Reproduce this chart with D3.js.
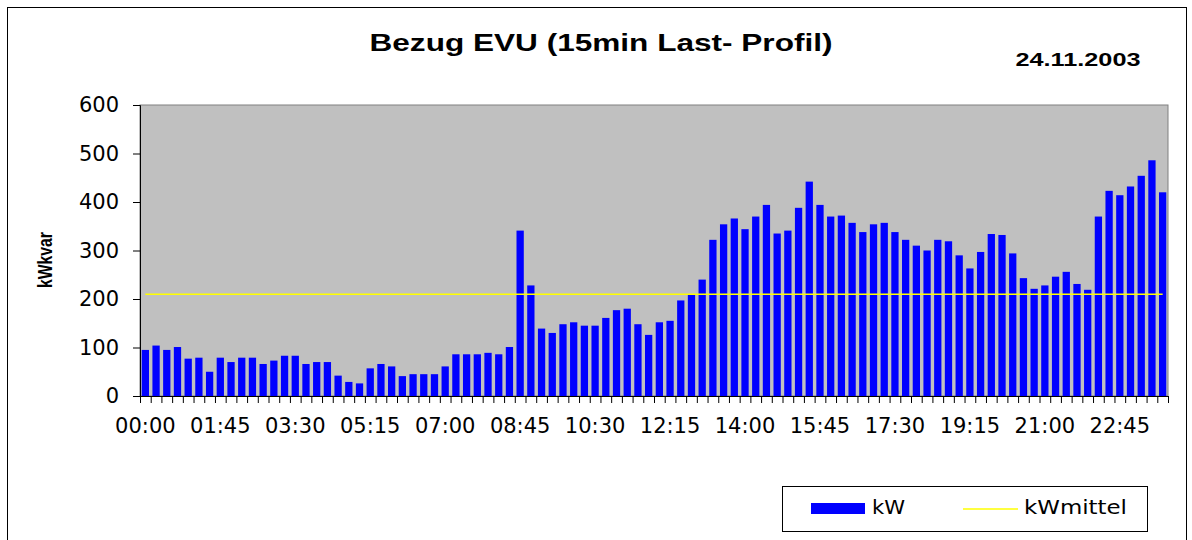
<!DOCTYPE html>
<html>
<head>
<meta charset="utf-8">
<script src="https://cdn.jsdelivr.net/npm/d3@7"></script>
<style>
  body { margin: 0; background: #fff; }
  svg { display: block; }
  text { font-family: "DejaVu Sans", sans-serif; fill: #000; }
</style>
</head>
<body>
<svg id="chart" width="1192" height="540"></svg>
<script>
// 15 min slots over the day
const slots = d3.range(96).map(i => {
  const h = Math.floor(i / 4), m = (i % 4) * 15;
  return String(h).padStart(2, "0") + ":" + String(m).padStart(2, "0");
});

const kW = [
  95, 104, 95, 101, 77, 79, 50, 79, 70, 79, 79, 66,
  73, 83, 83, 66, 70, 70, 42, 29, 26, 57, 66, 61,
  41, 45, 45, 45, 61, 86, 86, 86, 89, 86, 101, 341,
  228, 139, 130, 148, 152, 145, 145, 161, 177, 180, 148, 126,
  152, 155, 197, 209, 240, 322, 354, 366, 344, 370, 394, 335,
  341, 388, 442, 394, 370, 372, 357, 338, 354, 357, 338, 322,
  310, 300, 322, 319, 290, 263, 297, 334, 332, 294, 243, 221,
  228, 246, 256, 231, 219, 370, 423, 414, 432, 454, 486, 420
];

const kWmittel = 210;

const xLabels = ["00:00","01:45","03:30","05:15","07:00","08:45","10:30",
                 "12:15","14:00","15:45","17:30","19:15","21:00","22:45"];
const yTicks = [0, 100, 200, 300, 400, 500, 600];

const svg = d3.select("#chart");
const plot = { left: 140, top: 105, right: 1168, bottom: 396 };

// outer frame
svg.append("rect")
   .attr("x", 7.5).attr("y", 7.5).attr("width", 1179).attr("height", 560)
   .attr("fill", "none").attr("stroke", "#000");

const x = d3.scaleBand().domain(slots)
  .range([plot.left, plot.right])
  .paddingInner(0.32).paddingOuter(0.16);
const y = d3.scaleLinear().domain([0, 600]).range([plot.bottom, plot.top]);

// plot background
svg.append("rect")
   .attr("x", plot.left).attr("y", plot.top)
   .attr("width", plot.right - plot.left).attr("height", plot.bottom - plot.top)
   .attr("fill", "#c0c0c0").attr("stroke", "#808080");

// bars
svg.append("g").selectAll("rect").data(kW).join("rect")
   .attr("x", (d, i) => x(slots[i]))
   .attr("y", d => y(d))
   .attr("width", x.bandwidth())
   .attr("height", d => y(0) - y(d))
   .attr("fill", "#0000ff");

// mean line
svg.append("line")
   .attr("x1", x(slots[0]) + x.bandwidth() / 2)
   .attr("x2", x(slots[slots.length - 1]) + x.bandwidth() / 2)
   .attr("y1", y(kWmittel)).attr("y2", y(kWmittel))
   .attr("stroke", "#ffff00").attr("stroke-width", 1.5);

// y axis
const yAxis = svg.append("g")
  .attr("transform", `translate(${plot.left},0)`)
  .call(d3.axisLeft(y).tickValues(yTicks).tickSize(7).tickPadding(14));
yAxis.select(".domain").attr("stroke", "#000");
yAxis.selectAll("text").attr("font-size", 21).style("font-family", "DejaVu Sans");

// x axis: ticks between categories, labels every 7 slots
const step = x.step();
const xg = svg.append("g");
xg.append("line")
  .attr("x1", plot.left).attr("x2", plot.right)
  .attr("y1", plot.bottom + 0.5).attr("y2", plot.bottom + 0.5)
  .attr("stroke", "#000");
xg.selectAll("line.tick").data(d3.range(slots.length + 1)).join("line")
  .attr("class", "tick")
  .attr("x1", i => plot.left + i * step + 0.5).attr("x2", i => plot.left + i * step + 0.5)
  .attr("y1", plot.bottom).attr("y2", plot.bottom + 7)
  .attr("stroke", "#000");
xg.selectAll("text").data(xLabels).join("text")
  .attr("x", d => x(d) + x.bandwidth() / 2)
  .attr("y", 433)
  .attr("text-anchor", "middle")
  .attr("font-size", 21)
  .text(d => d);

// titles
svg.append("text")
   .attr("x", 601).attr("y", 51)
   .attr("text-anchor", "middle")
   .attr("font-size", 23).attr("font-weight", "bold")
   .attr("textLength", 463).attr("lengthAdjust", "spacingAndGlyphs")
   .style("font-family", "Liberation Sans")
   .text("Bezug EVU (15min Last- Profil)");

svg.append("text")
   .attr("x", 1078).attr("y", 66)
   .attr("text-anchor", "middle")
   .attr("font-size", 19).attr("font-weight", "bold")
   .attr("textLength", 125).attr("lengthAdjust", "spacingAndGlyphs")
   .style("font-family", "Liberation Sans")
   .text("24.11.2003");

svg.append("text")
   .attr("transform", "translate(52,260) rotate(-90)")
   .attr("text-anchor", "middle")
   .attr("font-size", 20).attr("font-weight", "bold")
   .attr("textLength", 56).attr("lengthAdjust", "spacingAndGlyphs")
   .style("font-family", "Liberation Sans")
   .text("kWkvar");

// legend
const lg = svg.append("g");
lg.append("rect")
  .attr("x", 782.5).attr("y", 486.5).attr("width", 365).attr("height", 45)
  .attr("fill", "#fff").attr("stroke", "#000");
lg.append("rect")
  .attr("x", 811).attr("y", 503).attr("width", 54).attr("height", 11)
  .attr("fill", "#0000ff");
lg.append("text")
  .attr("x", 872).attr("y", 514).attr("font-size", 20)
  .attr("textLength", 33).attr("lengthAdjust", "spacingAndGlyphs")
  .text("kW");
lg.append("line")
  .attr("x1", 963).attr("x2", 1018).attr("y1", 509).attr("y2", 509)
  .attr("stroke", "#ffff00").attr("stroke-width", 1.5);
lg.append("text")
  .attr("x", 1024).attr("y", 514).attr("font-size", 20)
  .attr("textLength", 103).attr("lengthAdjust", "spacingAndGlyphs")
  .text("kWmittel");
</script>
</body>
</html>
